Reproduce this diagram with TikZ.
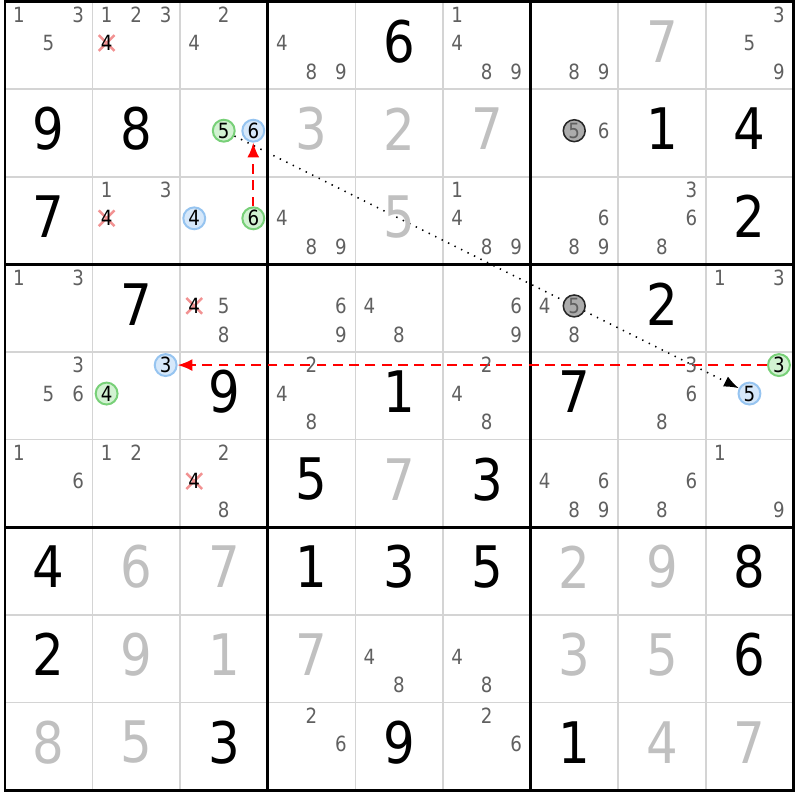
\documentclass[tikz,border=0pt]{standalone}
\usepackage{fontspec}
\setmainfont{DejaVu Sans}[FakeStretch=0.87]
\usepackage{tikz}
\usetikzlibrary{arrows.meta}
\definecolor{candgray}{RGB}{96,96,96}
\definecolor{solvgray}{RGB}{192,192,192}
\definecolor{linegray}{RGB}{212,212,212}
\definecolor{bluebg}{RGB}{214,232,250}
\definecolor{bluebd}{RGB}{150,196,240}
\definecolor{greenbg}{RGB}{210,242,210}
\definecolor{greenbd}{RGB}{120,208,120}
\definecolor{fingray}{RGB}{172,172,172}
\definecolor{xpink}{RGB}{242,146,146}
\definecolor{linkred}{RGB}{255,0,0}
\pgfdeclarelayer{grid}
\pgfdeclarelayer{links}
\pgfsetlayers{grid,links,main}
\newcommand{\cnd}[3]{\node[cand] (r#2c#1d#3) at ({#1+0.16+0.337*mod(#3-1,3)},{9-#2-0.15-0.325*floor((#3-1)/3)}) {#3};}
\newcommand{\mcnd}[4]{\node[cand,#1] (r#3c#2d#4) at ({#2+0.16+0.337*mod(#4-1,3)},{9-#3-0.15-0.325*floor((#4-1)/3)}) {#4};}
\newcommand{\xcnd}[3]{\node[cand,text=black] (r#2c#1d#3) at ({#1+0.16+0.337*mod(#3-1,3)},{9-#2-0.15-0.325*floor((#3-1)/3)}) {#3};
	\begin{pgfonlayer}{links}\draw[xmark] (r#2c#1d#3.center) ++(-0.09,-0.09) -- ++(0.18,0.18) ++(0,-0.18) -- ++(-0.18,0.18);\end{pgfonlayer}}
\newcommand{\gvn}[3]{\node[given] (r#2c#1) at (#1+0.5,8.545-#2) {#3};}
\newcommand{\slv}[3]{\node[given,text=solvgray] (r#2c#1) at (#1+0.5,8.545-#2) {#3};}

\begin{document}
\begin{tikzpicture}[
		cand/.style={font=\fontsize{6.8}{7}\selectfont, text=candgray, inner sep=0pt},
		given/.style={font=\fontsize{18.6}{20}\selectfont, text=black, inner sep=0pt},
		markcirc/.style={circle, inner sep=0pt, minimum size=0.25cm, line width=0.65pt, text=black},
		bluemark/.style={markcirc, draw=bluebd, fill=bluebg},
		greenmark/.style={markcirc, draw=greenbd, fill=greenbg},
		finmark/.style={markcirc, draw=black!85, fill=fingray, text=candgray, line width=0.5pt},
		xmark/.style={xpink, line width=0.8pt},
		cellline/.style={linegray, line width=0.55pt},
		boxline/.style={black, line width=0.97pt},
		stronglink/.style={linkred, line width=0.65pt, dash pattern=on 3.2pt off 2.1pt, -{Latex[length=4.8pt,width=3.9pt]}},
		weaklink/.style={black, line width=0.5pt, dash pattern=on 0.45pt off 1.9pt, -{Latex[length=4.8pt,width=3.6pt]}}]
	\useasboundingbox (-0.057,-0.114) rectangle (9.074,9.017);
	\begin{pgfonlayer}{grid}
		\draw[cellline] (1,0) -- (1,9) (2,0) -- (2,9) (4,0) -- (4,9) (5,0) -- (5,9) (7,0) -- (7,9) (8,0) -- (8,9);
		\draw[cellline] (0,1) -- (9,1) (0,2) -- (9,2) (0,4) -- (9,4) (0,5) -- (9,5) (0,7) -- (9,7) (0,8) -- (9,8);
		\draw[boxline] (3,0) -- (3,9) (6,0) -- (6,9) (0,3) -- (9,3) (0,6) -- (9,6);
		\draw[boxline] (0,0) rectangle (9,9);
	\end{pgfonlayer}
	
	\cnd{0}{0}{1} \cnd{0}{0}{3} \cnd{0}{0}{5}
	\cnd{1}{0}{1} \cnd{1}{0}{2} \cnd{1}{0}{3} \xcnd{1}{0}{4}
	\cnd{2}{0}{2} \cnd{2}{0}{4}
	\cnd{3}{0}{4} \cnd{3}{0}{8} \cnd{3}{0}{9}
	\gvn{4}{0}{6}
	\cnd{5}{0}{1} \cnd{5}{0}{4} \cnd{5}{0}{8} \cnd{5}{0}{9}
	\cnd{6}{0}{8} \cnd{6}{0}{9}
	\slv{7}{0}{7}
	\cnd{8}{0}{3} \cnd{8}{0}{5} \cnd{8}{0}{9}
	
	\gvn{0}{1}{9} \gvn{1}{1}{8}
	\mcnd{greenmark}{2}{1}{5} \mcnd{bluemark}{2}{1}{6}
	\slv{3}{1}{3} \slv{4}{1}{2} \slv{5}{1}{7}
	\mcnd{finmark}{6}{1}{5} \cnd{6}{1}{6}
	\gvn{7}{1}{1} \gvn{8}{1}{4}
	
	\gvn{0}{2}{7}
	\cnd{1}{2}{1} \cnd{1}{2}{3} \xcnd{1}{2}{4}
	\mcnd{bluemark}{2}{2}{4} \mcnd{greenmark}{2}{2}{6}
	\cnd{3}{2}{4} \cnd{3}{2}{8} \cnd{3}{2}{9}
	\slv{4}{2}{5}
	\cnd{5}{2}{1} \cnd{5}{2}{4} \cnd{5}{2}{8} \cnd{5}{2}{9}
	\cnd{6}{2}{6} \cnd{6}{2}{8} \cnd{6}{2}{9}
	\cnd{7}{2}{3} \cnd{7}{2}{6} \cnd{7}{2}{8}
	\gvn{8}{2}{2}
	
	\cnd{0}{3}{1} \cnd{0}{3}{3}
	\gvn{1}{3}{7}
	\xcnd{2}{3}{4} \cnd{2}{3}{5} \cnd{2}{3}{8}
	\cnd{3}{3}{6} \cnd{3}{3}{9}
	\cnd{4}{3}{4} \cnd{4}{3}{8}
	\cnd{5}{3}{6} \cnd{5}{3}{9}
	\cnd{6}{3}{4} \mcnd{finmark}{6}{3}{5} \cnd{6}{3}{8}
	\gvn{7}{3}{2}
	\cnd{8}{3}{1} \cnd{8}{3}{3}
	
	\cnd{0}{4}{3} \cnd{0}{4}{5} \cnd{0}{4}{6}
	\mcnd{bluemark}{1}{4}{3} \mcnd{greenmark}{1}{4}{4}
	\gvn{2}{4}{9}
	\cnd{3}{4}{2} \cnd{3}{4}{4} \cnd{3}{4}{8}
	\gvn{4}{4}{1}
	\cnd{5}{4}{2} \cnd{5}{4}{4} \cnd{5}{4}{8}
	\gvn{6}{4}{7}
	\cnd{7}{4}{3} \cnd{7}{4}{6} \cnd{7}{4}{8}
	\mcnd{greenmark}{8}{4}{3} \mcnd{bluemark}{8}{4}{5}
	
	\cnd{0}{5}{1} \cnd{0}{5}{6}
	\cnd{1}{5}{1} \cnd{1}{5}{2}
	\cnd{2}{5}{2} \xcnd{2}{5}{4} \cnd{2}{5}{8}
	\gvn{3}{5}{5} \slv{4}{5}{7} \gvn{5}{5}{3}
	\cnd{6}{5}{4} \cnd{6}{5}{6} \cnd{6}{5}{8} \cnd{6}{5}{9}
	\cnd{7}{5}{6} \cnd{7}{5}{8}
	\cnd{8}{5}{1} \cnd{8}{5}{9}
	
	\gvn{0}{6}{4} \slv{1}{6}{6} \slv{2}{6}{7} \gvn{3}{6}{1} \gvn{4}{6}{3} \gvn{5}{6}{5} \slv{6}{6}{2} \slv{7}{6}{9} \gvn{8}{6}{8}
	\gvn{0}{7}{2} \slv{1}{7}{9} \slv{2}{7}{1} \slv{3}{7}{7}
	\cnd{4}{7}{4} \cnd{4}{7}{8} \cnd{5}{7}{4} \cnd{5}{7}{8}
	\slv{6}{7}{3} \slv{7}{7}{5} \gvn{8}{7}{6}
	\slv{0}{8}{8} \slv{1}{8}{5} \gvn{2}{8}{3}
	\cnd{3}{8}{2} \cnd{3}{8}{6}
	\gvn{4}{8}{9}
	\cnd{5}{8}{2} \cnd{5}{8}{6}
	\gvn{6}{8}{1} \slv{7}{8}{4} \slv{8}{8}{7}
	
	\begin{pgfonlayer}{links}
		\draw[weaklink] (r1c2d5) -- (r4c8d5);
		\draw[stronglink] (r2c2d6) -- (r1c2d6);
		\draw[stronglink] (r4c8d3) -- (r4c1d3);
	\end{pgfonlayer}
\end{tikzpicture}
\end{document}
